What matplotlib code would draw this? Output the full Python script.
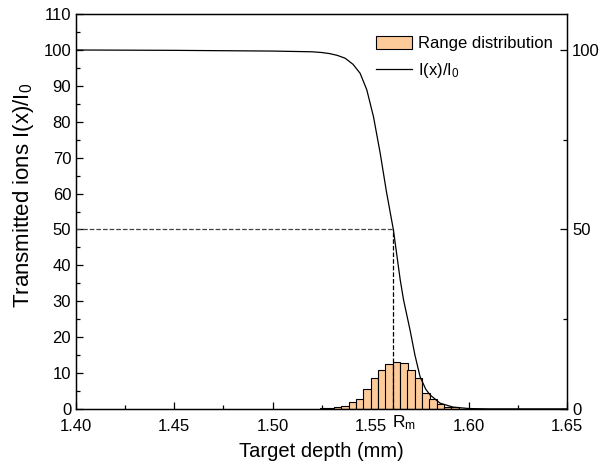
import matplotlib
matplotlib.use("Agg")
import matplotlib.pyplot as plt
from matplotlib.ticker import MultipleLocator, FormatStrFormatter

plt.rcParams['font.family'] = ['Liberation Sans', 'DejaVu Sans']
plt.rcParams['mathtext.fontset'] = 'custom'
plt.rcParams['mathtext.rm'] = 'Liberation Sans'
plt.rcParams['mathtext.it'] = 'Liberation Sans'

# transmitted fraction curve
depth = [1.400, 1.450, 1.500, 1.510, 1.520, 1.525, 1.529, 1.533, 1.537, 1.541,
         1.5446, 1.548, 1.5514, 1.5548, 1.558, 1.5615, 1.565, 1.5667, 1.570,
         1.5725, 1.5751, 1.578, 1.5802, 1.5853, 1.5919, 1.600, 1.610, 1.650]
transmitted = [100.0, 99.9, 99.7, 99.6, 99.5, 99.3, 99.0, 98.5, 97.7, 96.0,
               93.5, 88.9, 81.4, 71.3, 60.5, 50.0, 36.0, 30.4, 22.0,
               15.0, 9.0, 5.5, 3.9, 1.6, 0.5, 0.1, 0.0, 0.0]

# range distribution histogram (left bin edges, counts)
bin_left = [1.5240, 1.5277, 1.5314, 1.5351, 1.5389, 1.5426, 1.5463, 1.5501,
            1.5538, 1.5575, 1.5613, 1.5650, 1.5687, 1.5725, 1.5762, 1.5799,
            1.5837, 1.5874, 1.5911]
bin_height = [0.15, 0.3, 0.5, 0.8, 1.9, 2.7, 5.5, 8.5, 10.9, 12.5,
              13.2, 12.7, 10.7, 8.5, 4.4, 2.8, 1.3, 0.6, 0.4]
bin_width = 0.00373

Rm = 1.5615

fig = plt.figure(figsize=(6.04, 4.70), dpi=100)
ax = fig.add_axes([0.126, 0.130, 0.813, 0.840])

bars = ax.bar(bin_left, bin_height, width=bin_width, align='edge', color='#FDCB9A',
              edgecolor='black', linewidth=0.8, label='Range distribution', zorder=2)
line, = ax.plot(depth, transmitted, color='black', lw=0.9, label=r'I(x)/I$_0$', zorder=3)

ax.plot([1.40, Rm], [50, 50], ls='--', color='#444444', lw=0.9, zorder=3)
ax.plot([Rm, Rm], [0, 50], ls='--', color='black', lw=0.9, zorder=3)
ax.text(Rm - 0.0008, -0.046, r'R$_\mathrm{m}$', transform=ax.get_xaxis_transform(),
        ha='left', va='baseline', fontsize=12.5)

ax.set_xlim(1.40, 1.65)
ax.set_ylim(0, 110)
ax.xaxis.set_major_locator(MultipleLocator(0.05))
ax.xaxis.set_minor_locator(MultipleLocator(0.025))
ax.yaxis.set_major_locator(MultipleLocator(10))
ax.yaxis.set_minor_locator(MultipleLocator(5))
ax.xaxis.set_major_formatter(FormatStrFormatter('%.2f'))
ax.tick_params(which='both', direction='in', labelsize=12, top=False, right=False)
ax.tick_params(which='major', length=5, width=0.9)
ax.tick_params(which='minor', length=3, width=0.9)
ax.tick_params(axis='x', pad=7)

ax.set_xlabel('Target depth (mm)', fontsize=14.5, labelpad=6)
ax.set_ylabel(r'Transmitted ions I(x)/I$_0$', fontsize=16)
ax.yaxis.set_label_coords(-0.082, 0.54)

for s in ax.spines.values():
    s.set_linewidth(1.0)

ax2 = ax.twinx()
ax2.set_ylim(0, 110)
ax2.set_yticks([0, 50, 100])
ax2.yaxis.set_minor_locator(MultipleLocator(25))
ax2.tick_params(which='both', direction='in', labelsize=12)
ax2.tick_params(which='major', length=5, width=0.9)
ax2.tick_params(which='minor', length=3, width=0.9)

ax.legend([bars, line], ['Range distribution', r'I(x)/I$_0$'],
          loc='upper right', bbox_to_anchor=(0.995, 0.975), frameon=False,
          fontsize=12, handlelength=2.2, handleheight=0.9, handletextpad=0.35,
          labelspacing=0.6, borderaxespad=0.3)

fig.savefig('out.png', dpi=100)
